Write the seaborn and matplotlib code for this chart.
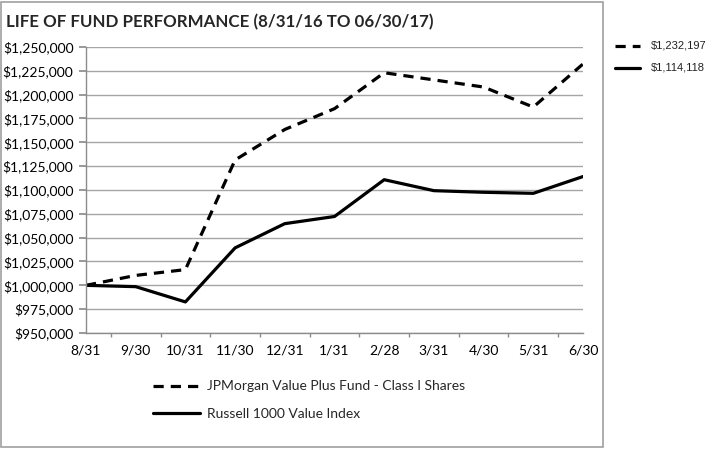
import matplotlib
matplotlib.use("Agg")
import matplotlib.pyplot as plt
import seaborn as sns
import numpy as np
import pandas as pd
from matplotlib.patches import Rectangle
from matplotlib.ticker import FuncFormatter, MultipleLocator

# data
dates = ["8/31", "9/30", "10/31", "11/30", "12/31", "1/31", "2/28", "3/31", "4/30", "5/31", "6/30"]
fund = [1000000, 1010400, 1016500, 1131500, 1163500, 1185300, 1223000, 1215500, 1208000, 1187000, 1232197]
russell = [1000000, 998600, 982600, 1039300, 1064700, 1072200, 1110800, 1099300, 1097600, 1096500, 1114118]
fund_name = "JPMorgan Value Plus Fund - Class I Shares"
russell_name = "Russell 1000 Value Index"

sns.set_theme(style="white")
plt.rcParams["font.family"] = ["Lato", "DejaVu Sans"]

df = pd.DataFrame({"pos": np.arange(len(dates)), "fund": fund, "russell": russell})

fig = plt.figure(figsize=(7.1, 4.5), dpi=100)
ax = fig.add_axes([86 / 710, 1 - 333 / 450, 497 / 710, 286 / 450])

sns.lineplot(data=df, x="pos", y="fund", ax=ax, color="black", lw=2.3,
             dashes=False, label=fund_name)
sns.lineplot(data=df, x="pos", y="russell", ax=ax, color="black", lw=2.3,
             label=russell_name)
ax.lines[0].set_dashes([3.2, 2.2])

ax.set_xlim(0, len(dates) - 1)
ax.set_ylim(950000, 1250000)
ax.yaxis.set_major_locator(MultipleLocator(25000))
ax.yaxis.set_major_formatter(FuncFormatter(lambda v, p: "${:,.0f}".format(v)))
ax.set_xticks(df["pos"])
ax.set_xticklabels(dates)
ax.set_xticks(df["pos"][:-1] + 0.5, minor=True)
ax.set_xlabel("")
ax.set_ylabel("")
ax.grid(axis="y", color="#a6a6a6", lw=1)
for s in ["top", "right"]:
    ax.spines[s].set_visible(False)
for s in ["left", "bottom"]:
    ax.spines[s].set_color("#8c8c8c")
    ax.spines[s].set_linewidth(1)
ax.tick_params(axis="both", which="both", direction="out", color="#8c8c8c",
               labelsize=10, colors="black")
ax.tick_params(axis="x", which="major", length=5, pad=3)
ax.tick_params(axis="x", which="minor", length=3)
ax.tick_params(axis="y", which="major", length=5, pad=4, left=True)
ax.tick_params(axis="x", which="minor", bottom=True)

# bottom legend
ax.legend(loc="upper left", bbox_to_anchor=(140 / 710, 1 - 368 / 450),
          bbox_transform=fig.transFigure, frameon=False, fontsize=10,
          handlelength=3.4, handletextpad=0.5, labelspacing=1.1)

# final values at right
ends = [(fund[-1], [3.2, 2.2], 46), (russell[-1], None, 68)]
for val, dash, ypix in ends:
    yf = 1 - ypix / 450
    ln = plt.Line2D([615 / 710, 640 / 710], [yf, yf], transform=fig.transFigure,
                    color="black", lw=2.3)
    if dash:
        ln.set_dashes(dash)
    fig.add_artist(ln)
    fig.text(651 / 710, yf, "${:,}".format(val), fontsize=8, va="center",
             family=["Liberation Sans", "DejaVu Sans"], color="#222222")

fig.text(6 / 710, 1 - 22 / 450, "LIFE OF FUND PERFORMANCE (8/31/16 TO 06/30/17)",
         fontsize=12.2, fontweight="bold", va="center")

fig.add_artist(Rectangle((1 / 710, 3 / 450), 602 / 710, 445 / 450, transform=fig.transFigure,
                         fill=False, edgecolor="#a0a0a0", lw=1.2))

fig.savefig("out.png", dpi=100)
